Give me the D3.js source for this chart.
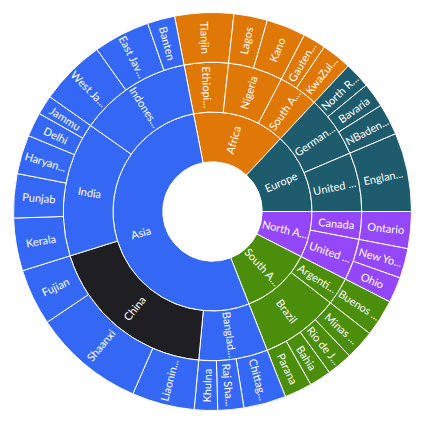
<!DOCTYPE html>
<html>
<head>
<meta charset="utf-8">
<script src="https://cdn.jsdelivr.net/npm/d3@7"></script>
<style>
  body { margin: 0; background: #fff; }
  #sunburst-chart text { font-family: "Segoe UI", Lato, sans-serif; font-size: 11px; fill: #fff; }
</style>
</head>
<body>
<div id="sunburst-chart"></div>
<script>
// continents (inner ring), clockwise from the top
const continents = ["Africa", "Europe", "North America", "South America", "Asia"];
const continentColors = ["#e07807", "#1e5c6d", "#9447f8", "#4b8e0c", "#3467f3"];

// countries (middle ring) and the continent each one belongs to
const countries = ["Ethiopia", "Nigeria", "South Africa", "Germany", "United Kingdom", "Canada", "United States",
    "Argentina", "Brazil", "Bangladesh", "China", "India", "Indonesia"];
const countryContinent = ["Africa", "Africa", "Africa", "Europe", "Europe", "North America", "North America",
    "South America", "South America", "Asia", "Asia", "Asia", "Asia"];

// states / provinces (outer ring), their country and population
const states = ["Tianjin", "Lagos", "Kano", "Gauteng", "KwaZulu-Natal",
    "North Rhine-Westphalia", "Bavaria", "NBaden-Wurttemberg", "England",
    "Ontario", "New York", "Ohio",
    "Buenos Aires", "Minas Gerais", "Rio de Janeiro", "Bahia", "Parana",
    "Chittagong", "Raj Shahi", "Khulna", "Liaoning", "Shaanxi", "Fujian",
    "Kerala", "Punjab", "Haryana", "Delhi", "Jammu", "West Java", "East Java", "Banten"];
const stateCountry = ["Ethiopia", "Nigeria", "Nigeria", "South Africa", "South Africa",
    "Germany", "Germany", "Germany", "United Kingdom",
    "Canada", "United States", "United States",
    "Argentina", "Brazil", "Brazil", "Brazil", "Brazil",
    "Bangladesh", "Bangladesh", "Bangladesh", "China", "China", "China",
    "India", "India", "India", "India", "India", "Indonesia", "Indonesia", "Indonesia"];
const population = [17.2, 9.8, 11.5, 6.7, 8.8,
    7.6, 7.2, 9.2, 23,
    10.8, 8.7, 7.5,
    10.8, 8.7, 7.5, 6.4, 8.1,
    12.4, 7.6, 6.8, 18.3, 32.6, 16.5,
    15.4, 12.9, 11.4, 7.1, 5.7, 19.3, 16.5, 8];

// the highlighted segment
const selectedCountry = "China";
const selectedColor = "#1f1e22";

const svgWidth = 425;
const svgHeight = 430;
const startDeg = -11;

// build the nested tree out of the flat lists
let tree = {name: "World", children: continents.map(function (c) { return {name: c, children: []}; })};
countries.forEach(function (c, i) {
    tree.children.find(d => d.name === countryContinent[i]).children.push({name: c, children: []});
});
states.forEach(function (s, i) {
    let country = null;
    tree.children.forEach(function (cont) {
        cont.children.forEach(function (ctry) { if (ctry.name === stateCountry[i]) country = ctry; });
    });
    country.children.push({name: s, value: population[i]});
});

let root = d3.hierarchy(tree).sum(d => d.value || 0);
d3.partition().size([1, 4])(root);

let start = startDeg * Math.PI / 180;
let angle = d3.scaleLinear().domain([0, 1]).range([start, start + 2 * Math.PI]);
let radius = d3.scaleLinear().domain([0, 4]).range([0, 199]);
let color = d3.scaleOrdinal().domain(continents).range(continentColors);

let arc = d3.arc()
    .startAngle(d => angle(d.x0))
    .endAngle(d => angle(d.x1))
    .innerRadius(d => radius(d.y0))
    .outerRadius(d => radius(d.y1));

let svg = d3.select("#sunburst-chart").append("svg")
    .attr("width", svgWidth)
    .attr("height", svgHeight);

let g = svg.append("g").attr("transform", "translate(212.5,211.5)");

let nodes = root.descendants().filter(d => d.depth > 0);

g.selectAll("path")
    .data(nodes)
    .enter()
    .append("path")
    .attr("d", arc)
    .attr("fill", function (d) {
        if (d.data.name === selectedCountry) return selectedColor;
        return color(d.ancestors().find(a => a.depth === 1).data.name);
    })
    .attr("stroke", "#fff")
    .attr("stroke-width", 1);

// labels run along the radius; cut with "..." when they do not fit the ring
let fullFit = 37.5, cutFit = 39.5;

let labels = g.selectAll("text")
    .data(nodes)
    .enter()
    .append("text")
    .attr("text-anchor", "middle")
    .attr("dominant-baseline", "central")
    .attr("transform", function (d) {
        let a = ((angle((d.x0 + d.x1) / 2) * 180 / Math.PI) % 360 + 360) % 360;
        let r = radius((d.y0 + d.y1) / 2);
        let x = r * Math.sin(a * Math.PI / 180);
        let y = -r * Math.cos(a * Math.PI / 180);
        let rot = a < 180 ? a - 90 : a + 90;
        return "translate(" + x + "," + y + ") rotate(" + rot + ")";
    })
    .text(d => d.data.name);

labels.each(function (d) {
    let t = d3.select(this);
    if (this.getComputedTextLength() <= fullFit) return;
    let s = d.data.name;
    while (s.length > 1) {
        s = s.slice(0, -1);
        t.text(s);
        if (this.getComputedTextLength() <= cutFit) break;
    }
    t.text(s + "...");
});
</script>
</body>
</html>
